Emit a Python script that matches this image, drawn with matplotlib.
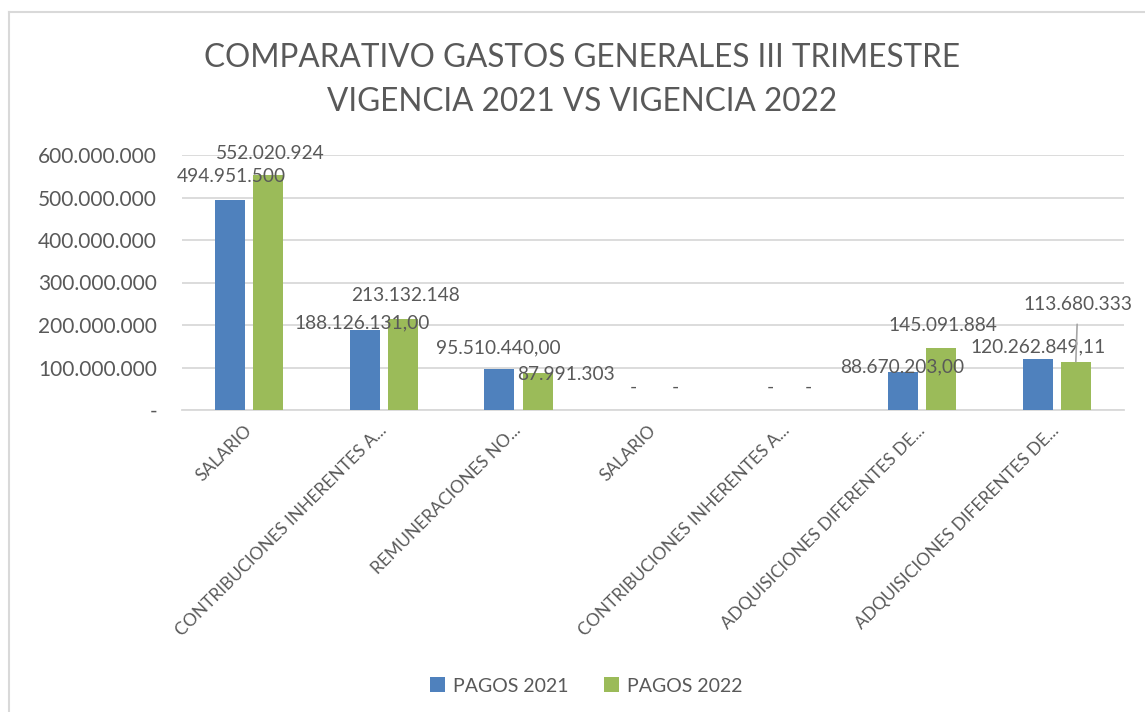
import matplotlib
matplotlib.use("Agg")
import matplotlib.pyplot as plt
import numpy as np
from matplotlib.lines import Line2D

plt.rcParams['font.family'] = ['Lato', 'DejaVu Sans']

# ---- data ----
categories = ["SALARIO", "CONTRIBUCIONES INHERENTES A...", "REMUNERACIONES NO...",
              "SALARIO", "CONTRIBUCIONES INHERENTES A...", "ADQUISICIONES DIFERENTES DE...",
              "ADQUISICIONES DIFERENTES DE..."]
pagos_2021 = [494951500, 188126131.00, 95510440.00, 0, 0, 88670203.00, 120262849.11]
pagos_2022 = [552020924, 213132148, 87991303, 0, 0, 145091884, 113680333]
labels_2021 = ["494.951.500", "188.126.131,00", "95.510.440,00", "-", "-", "88.670.203,00", "120.262.849,11"]
labels_2022 = ["552.020.924", "213.132.148", "87.991.303", "-", "-", "145.091.884", "113.680.333"]
yticks = [0, 100000000, 200000000, 300000000, 400000000, 500000000, 600000000]
ytick_labels = ["-", "100.000.000", "200.000.000", "300.000.000", "400.000.000", "500.000.000", "600.000.000"]
series_names = ["PAGOS 2021", "PAGOS 2022"]
title = "COMPARATIVO GASTOS GENERALES III TRIMESTRE\nVIGENCIA 2021 VS VIGENCIA 2022"

# ---- style ----
BLUE = "#4F81BD"
GREEN = "#9BBB59"
TXT = "#595959"
GRID = "#D9D9D9"

# label offsets in pixels (dx, dy up) from the top-centre of each bar
off_2021 = [(1.5, 23), (-3, 7), (-1, 22), (-1, 23), (2, 23), (-1, 5), (0, 12)]
off_2022 = [(2, 22), (3, 24), (28, -2), (3, 23), (2, 23), (2, 23), (2, 57)]
leader_2022 = [False, False, False, False, False, False, True]

W, H = 1145, 712
fig = plt.figure(figsize=(W / 100, H / 100), dpi=100)
fig.patch.set_facecolor("white")

ax = fig.add_axes([182 / W, 1 - 410 / H, (1124 - 182) / W, (410 - 155) / H])
x = np.arange(len(categories))
bw = 0.223
d = 0.142
b1 = ax.bar(x - d, pagos_2021, bw, color=BLUE, linewidth=0, zorder=3, label=series_names[0])
b2 = ax.bar(x + d, pagos_2022, bw, color=GREEN, linewidth=0, zorder=3, label=series_names[1])

ax.set_xlim(-0.5, len(categories) - 0.5)
ax.set_ylim(0, 600000000)
ax.set_yticks(yticks)
ax.set_yticklabels(ytick_labels)
ax.yaxis.grid(True, color=GRID, linewidth=1.3, zorder=0)
ax.set_axisbelow(True)
for s in ["top", "right", "left"]:
    ax.spines[s].set_visible(False)
ax.spines["bottom"].set_color(GRID)
ax.spines["bottom"].set_linewidth(1.3)
ax.tick_params(axis="y", length=0, pad=18, labelsize=15, labelcolor=TXT)
ax.tick_params(axis="x", length=0, pad=13, labelsize=12.5, labelcolor=TXT)
ax.set_xticks(x)
ax.set_xticklabels(categories, rotation=45, ha="right", va="center", rotation_mode="anchor")

for i in range(len(categories)):
    ax.annotate(labels_2021[i], xy=(x[i] - d, pagos_2021[i]), xytext=off_2021[i],
                textcoords="offset pixels", ha="center", va="center", fontsize=13.8, color=TXT, zorder=4)
    if leader_2022[i]:
        ax.annotate(labels_2022[i], xy=(x[i] + d, pagos_2022[i]), xytext=off_2022[i],
                    textcoords="offset pixels", ha="center", va="center", fontsize=13.8, color=TXT, zorder=4,
                    arrowprops=dict(arrowstyle="-", color="#A6A6A6", lw=1.2, shrinkA=6, shrinkB=0))
    else:
        ax.annotate(labels_2022[i], xy=(x[i] + d, pagos_2022[i]), xytext=off_2022[i],
                    textcoords="offset pixels", ha="center", va="center", fontsize=13.8, color=TXT, zorder=4)

fig.text(582 / W, 1 - 80 / H, title, ha="center", va="center", fontsize=22.7, color=TXT,
         linespacing=1.6)

leg = fig.legend(handles=[b1, b2], labels=series_names, loc="center", bbox_to_anchor=(586 / W, 1 - 686 / H),
                 ncol=2, frameon=False, fontsize=14, handlelength=0.8, handleheight=0.8,
                 handletextpad=0.4, columnspacing=1.8, labelcolor=TXT)

# chart border (left and top visible)
fig.add_artist(Line2D([9 / W, 9 / W], [0, 1 - 12 / H], color=GRID, lw=1.5, transform=fig.transFigure))
fig.add_artist(Line2D([9 / W, 1], [1 - 12 / H, 1 - 12 / H], color=GRID, lw=1.5, transform=fig.transFigure))

fig.savefig("out.png", dpi=100)
